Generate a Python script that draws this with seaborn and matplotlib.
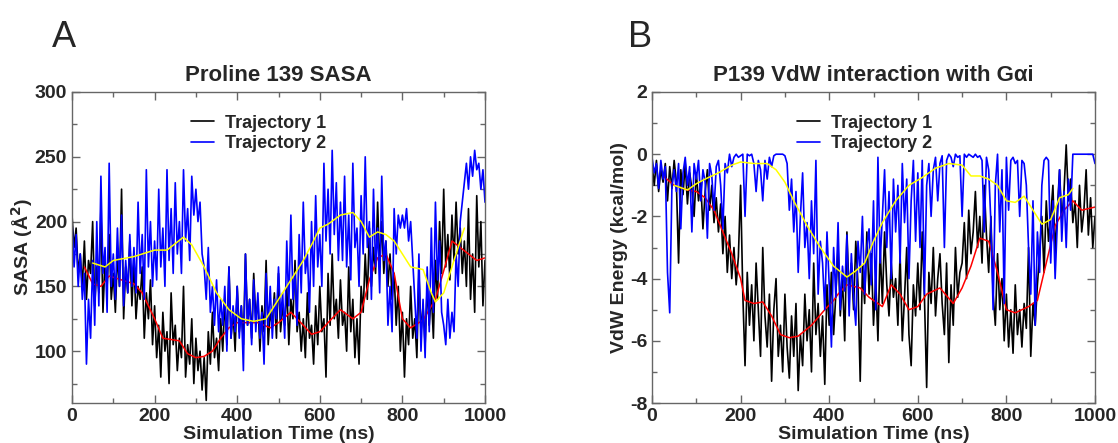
import numpy as np
import matplotlib
matplotlib.use("Agg")
import matplotlib.pyplot as plt
import seaborn as sns
from matplotlib.ticker import MultipleLocator

# time axis (ns), one sample every 5 ns
time_ns = np.arange(0, 1001, 5)

# panel A: Proline 139 SASA (A^2)
sasa_traj1 = [
    205, 180, 195, 160, 175, 150, 185, 140, 170, 160,
    200, 135, 165, 145, 210, 130, 170, 150, 190, 140,
    160, 130, 175, 150, 225, 125, 165, 145, 185, 135,
    170, 125, 150, 140, 165, 110, 145, 125, 155, 105,
    135, 95, 120, 80, 130, 100, 115, 75, 145, 105,
    120, 85, 110, 95, 150, 80, 105, 90, 125, 75,
    110, 85, 100, 70, 95, 62, 115, 90, 130, 95,
    110, 85, 125, 100, 140, 105, 165, 110, 130, 100,
    150, 115, 135, 105, 175, 120, 140, 110, 160, 125,
    140, 100, 135, 115, 170, 105, 130, 120, 145, 110,
    160, 115, 135, 120, 150, 105, 140, 125, 170, 115,
    130, 100, 125, 95, 145, 110, 120, 90, 135, 105,
    150, 115, 125, 80, 160, 120, 175, 125, 140, 110,
    155, 120, 130, 100, 165, 115, 140, 95, 125, 90,
    150, 130, 175, 140, 195, 150, 180, 160, 215, 165,
    200, 160, 185, 150, 175, 140, 160, 120, 150, 100,
    130, 80, 125, 105, 150, 110, 125, 95, 160, 115,
    135, 105, 150, 120, 145, 110, 170, 140, 200, 160,
    225, 165, 190, 155, 205, 170, 215, 175, 195, 160,
    185, 150, 210, 140, 175, 130, 220, 165, 200, 135,
    170,
]
sasa_traj2 = [
    200, 165, 190, 150, 175, 140, 160, 90, 140, 110,
    170, 120, 200, 135, 235, 160, 180, 130, 245, 150,
    175, 140, 195, 150, 205, 135, 170, 145, 190, 150,
    180, 145, 215, 160, 190, 140, 240, 165, 200, 150,
    185, 155, 225, 165, 195, 150, 240, 170, 210, 160,
    230, 175, 200, 160, 240, 185, 210, 170, 235, 205,
    225, 200, 215, 175, 165, 140, 180, 130, 150, 120,
    155, 115, 140, 120, 150, 100, 165, 110, 135, 115,
    150, 110, 135, 85, 175, 120, 140, 105, 155, 115,
    145, 110, 130, 90, 160, 120, 150, 110, 140, 125,
    165, 125, 145, 110, 185, 135, 205, 140, 160, 120,
    190, 145, 215, 160, 175, 130, 200, 150, 220, 165,
    190, 150, 245, 185, 225, 175, 255, 190, 230, 170,
    215, 170, 235, 165, 205, 155, 245, 180, 195, 150,
    220, 175, 250, 180, 200, 140, 225, 165, 195, 145,
    235, 170, 185, 120, 150, 115, 210, 175, 205, 195,
    205, 195, 210, 185, 200, 170, 140, 110, 175, 100,
    140, 95, 165, 115, 195, 130, 215, 155, 185, 130,
    120, 105, 140, 110, 130, 115, 175, 150, 200, 215,
    230, 245, 225, 250, 235, 255, 240, 245, 225, 240,
    215,
]
sasa_avg1_t = [30, 50, 70, 90, 120, 150, 170, 200, 220, 260, 280, 300, 320, 340,
               360, 380, 400, 450, 480, 500, 530, 560, 580, 600, 620, 650, 680, 700,
               720, 740, 760, 780, 800, 820, 850, 880, 900, 920, 940, 960, 980, 1000]
sasa_avg1 = [165, 152, 150, 158, 155, 152, 145, 125, 110, 108, 98, 95, 96, 100,
             110, 118, 122, 122, 118, 122, 130, 120, 113, 115, 122, 132, 125, 130,
             155, 172, 175, 160, 125, 118, 124, 140, 162, 185, 180, 175, 170, 172]
sasa_avg2_t = [50, 80, 100, 150, 200, 230, 250, 270, 290, 320, 350, 380, 410, 440,
               470, 500, 530, 560, 580, 600, 620, 650, 680, 700, 720, 740, 760, 780,
               800, 820, 850, 870, 880, 900, 920, 950]
sasa_avg2 = [168, 165, 170, 173, 178, 178, 183, 188, 182, 165, 145, 132, 125, 123,
             125, 140, 155, 170, 182, 195, 198, 205, 207, 200, 188, 192, 190, 185,
             175, 165, 163, 145, 138, 145, 165, 195]

# panel B: P139 VdW energy (kcal/mol)
vdw_traj1 = [
    -0.3, -1.0, -0.2, -1.2, -0.5, -0.9, -0.3, -1.5, -0.4, -1.1,
    -0.2, -0.9, -3.5, -0.5, -1.3, -0.3, -1.6, -0.6, -1.1, -2.0,
    -0.6, -1.5, -0.9, -2.4, -1.2, -0.5, -1.8, -1.0, -2.2, -1.4,
    -2.5, -1.6, -3.2, -2.0, -3.8, -2.6, -4.0, -3.0, -4.2, -3.3,
    -1.0, -4.5, -6.8, -3.8, -5.5, -4.2, -6.0, -3.5, -5.0, -6.5,
    -3.0, -5.2, -6.2, -4.5, -7.3, -5.0, -4.0, -6.5, -5.5, -7.0,
    -4.5, -6.2, -7.2, -5.2, -6.5, -4.8, -7.6, -5.8, -6.8, -4.5,
    -6.0, -5.0, -7.0, -3.5, -5.8, -4.8, -6.5, -5.2, -7.4, -4.2,
    -5.5, -3.8, -5.8, -4.5, -3.0, -5.2, -4.0, -6.0, -2.5, -4.5,
    -3.5, -5.0, -2.8, -4.2, -7.3, -3.6, -4.8, -2.5, -4.5, -3.2,
    -5.5, -4.0, -6.0, -3.0, -4.8, -2.5, -4.2, -5.2, -3.5, -4.6,
    -4.0, -5.5, -3.2, -6.0, -4.6, -3.0, -5.8, -6.8, -4.2, -5.2,
    -3.5, -5.0, -2.5, -4.6, -7.5, -3.8, -4.8, -3.0, -5.2, -4.0,
    -3.2, -4.8, -5.8, -3.5, -6.7, -4.2, -5.5, -3.0, -4.6, -3.8,
    -3.5, -2.2, -4.0, -1.8, -3.2, -2.5, -1.2, -3.0, -2.0, -3.5,
    -1.0, -2.6, -3.8, -2.0, -4.5, -5.5, -3.2, -5.0, -4.0, -6.0,
    -4.5, -6.2, -5.0, -6.4, -4.2, -5.8, -5.0, -6.2, -4.8, -5.6,
    -3.0, -6.5, -4.8, -5.5, -4.2, -3.2, -2.0, -3.8, -1.5, -2.8,
    -2.0, -1.0, -3.2, -1.8, -0.5, -2.2, -1.2, 0.3, -1.5, -0.8,
    -2.2, -1.5, -3.0, -1.0, -2.5, -1.8, -0.5, -2.6, -1.4, -3.0,
    -2.0,
]
vdw_traj2 = [
    -0.1, -0.6, -0.3, -1.1, -0.2, -0.8, -0.4, -3.8, -5.1, -1.0,
    -0.5, -1.2, -0.3, -2.4, -0.6, -0.1, -1.0, -0.4, -2.5, -0.3,
    -0.8, -0.2, -1.5, -0.5, -0.9, -2.7, -0.3, -0.7, -1.8, -0.4,
    -0.2, -1.0, -2.4, -0.3, -0.6, 0.0, -0.4, -0.1, 0.0, -0.1,
    -0.05, 0.0, -2.0, 0.0, -0.05, 0.0, -0.3, -1.2, -0.2, -0.5,
    -1.5, -0.2, -0.8, -0.1, -0.4, -0.05, 0.0, 0.0, 0.0, 0.0,
    -0.05, -0.3, -1.8, -0.8, -2.5, -1.2, -3.8, -2.0, -0.6, -3.0,
    -2.2, -4.0, -1.5, -3.2, -0.2, -4.5, -2.8, -3.5, -5.0, -2.5,
    -4.2, -6.2, -3.0, -4.6, -2.2, -5.0, -3.6, -4.4, -2.6, -5.2,
    -3.2, -4.6, -5.5, -2.8, -3.8, -2.0, -4.5, -3.0, -2.4, -4.2,
    -1.5, -5.0, -0.1, -3.5, -2.0, -0.5, -3.0, -1.2, -4.0, -0.8,
    -2.5, -1.0, -3.5, -0.3, -2.2, -0.8, -4.0, -1.5, -0.2, -2.8,
    -0.6, -3.0, -0.2, -4.5, -1.0, -0.3, -2.0, -0.5, -0.1, -1.5,
    -0.3, -0.05, -3.0, -0.2, 0.0, -0.1, -0.4, 0.0, -0.1, -0.05,
    -2.0, 0.0, -0.1, 0.0, -0.05, -0.1, 0.0, -0.1, -0.05, -0.2,
    -2.5, -0.1, -0.5, -2.2, -5.0, -1.0, 0.0, -2.5, -0.5, -4.8,
    -0.1, -1.8, -0.2, -0.1, -0.3, -0.2, -2.0, -0.2, -0.3, -1.0,
    -3.0, -4.5, -1.5, -5.5, -2.5, -3.8, -1.0, -0.2, -0.1, -0.2,
    -3.5, -1.5, -4.0, -2.2, -0.5, -2.8, -1.2, -3.0, -0.8, -1.8,
    0.0, 0.0, 0.0, 0.0, 0.0, 0.0, 0.0, 0.0, 0.0, 0.0,
    -0.3,
]
vdw_avg1_t = [25, 50, 80, 100, 120, 140, 160, 180, 200, 210, 230, 250, 270, 290,
              310, 330, 360, 390, 410, 420, 440, 470, 490, 520, 540, 560, 580, 600,
              620, 650, 680, 700, 720, 740, 760, 780, 800, 820, 850, 870, 890, 910,
              930, 950, 970, 1000]
vdw_avg1 = [-0.7, -1.0, -1.15, -1.2, -1.4, -1.8, -2.5, -3.2, -4.0, -4.7, -4.8, -4.75,
            -5.2, -5.8, -5.9, -5.85, -5.5, -5.0, -4.7, -4.5, -4.2, -4.3, -4.6, -4.9,
            -4.2, -4.5, -5.0, -4.9, -4.5, -4.3, -4.8, -4.3, -3.6, -2.7, -2.8, -3.8,
            -5.0, -5.1, -4.9, -4.7, -3.5, -2.3, -1.8, -1.5, -1.8, -1.7]
vdw_avg2_t = [50, 80, 100, 120, 150, 180, 200, 230, 260, 280, 300, 320, 350, 380,
              410, 440, 460, 480, 500, 520, 550, 580, 610, 640, 670, 700, 720, 740,
              760, 780, 800, 820, 840, 860, 880, 900, 920, 940, 950]
vdw_avg2 = [-1.0, -1.15, -0.95, -0.8, -0.6, -0.35, -0.25, -0.3, -0.3, -0.5, -0.9,
            -1.5, -2.3, -3.0, -3.6, -3.95, -3.75, -3.5, -2.8, -2.2, -1.5, -1.0,
            -0.75, -0.45, -0.3, -0.35, -0.7, -0.7, -0.8, -1.0, -1.5, -1.55, -1.35,
            -1.8, -2.25, -2.1, -1.4, -1.3, -1.1]

sns.set_style("ticks")
plt.rcParams["font.family"] = ["Liberation Sans", "DejaVu Sans"]
plt.rcParams["font.weight"] = "bold"
plt.rcParams["axes.unicode_minus"] = False

fig = plt.figure(figsize=(11.18, 4.43), dpi=100)
ax_a = fig.add_axes([72 / 1118, 1 - 403 / 443, 413 / 1118, 311 / 443])
ax_b = fig.add_axes([652 / 1118, 1 - 403 / 443, 443 / 1118, 311 / 443])


def draw_panel(ax, y1, y2, avg1_t, avg1, avg2_t, avg2):
    sns.lineplot(x=time_ns, y=y1, ax=ax, color="black", lw=1.2, estimator=None,
                 label="Trajectory 1")
    sns.lineplot(x=avg1_t, y=avg1, ax=ax, color="red", lw=1.1, estimator=None)
    sns.lineplot(x=time_ns, y=y2, ax=ax, color="#0000ff", lw=1.2, estimator=None,
                 label="Trajectory 2")
    sns.lineplot(x=avg2_t, y=avg2, ax=ax, color="#ffff00", lw=1.1, estimator=None)


draw_panel(ax_a, sasa_traj1, sasa_traj2, sasa_avg1_t, sasa_avg1, sasa_avg2_t, sasa_avg2)
draw_panel(ax_b, vdw_traj1, vdw_traj2, vdw_avg1_t, vdw_avg1, vdw_avg2_t, vdw_avg2)

ax_a.set_ylim(60, 300)
ax_a.yaxis.set_major_locator(MultipleLocator(50))
ax_a.yaxis.set_minor_locator(MultipleLocator(25))
ax_a.set_ylabel("SASA (Å$^{\\mathbf{2}}$)", fontsize=14, fontweight="bold", labelpad=0)
ax_a.set_title("Proline 139 SASA", fontsize=16, fontweight="bold", pad=8)

ax_b.set_ylim(-8, 2)
ax_b.yaxis.set_major_locator(MultipleLocator(2))
ax_b.yaxis.set_minor_locator(MultipleLocator(1))
ax_b.set_ylabel("VdW Energy (kcal/mol)", fontsize=14, fontweight="bold", labelpad=1)
ax_b.set_title("P139 VdW interaction with Gαi", fontsize=16, fontweight="bold", pad=8)

for ax, lx in [(ax_a, 0.27), (ax_b, 0.31)]:
    ax.set_xlim(0, 1000)
    ax.xaxis.set_major_locator(MultipleLocator(200))
    ax.xaxis.set_minor_locator(MultipleLocator(100))
    ax.set_xlabel("Simulation Time (ns)", fontsize=14, fontweight="bold", labelpad=1)
    ax.tick_params(which="both", direction="in", top=True, right=True,
                   labelsize=14, color="#666666", width=1)
    ax.tick_params(which="major", length=6)
    ax.tick_params(which="minor", length=3.5)
    for lab in ax.get_xticklabels() + ax.get_yticklabels():
        lab.set_fontweight("bold")
    for sp in ax.spines.values():
        sp.set_color("#666666")
        sp.set_linewidth(1)
    handles, labels = ax.get_legend_handles_labels()
    ax.legend(handles, labels, loc="upper left", bbox_to_anchor=(lx, 0.95),
              frameon=False, fontsize=13, handlelength=1.3, handletextpad=0.6,
              labelspacing=0.2, borderaxespad=0)

fig.text(52 / 1118, 1 - 47 / 443, "A", fontsize=26, fontweight="normal")
fig.text(628 / 1118, 1 - 47 / 443, "B", fontsize=26, fontweight="normal")

fig.savefig("out.png", dpi=100)
